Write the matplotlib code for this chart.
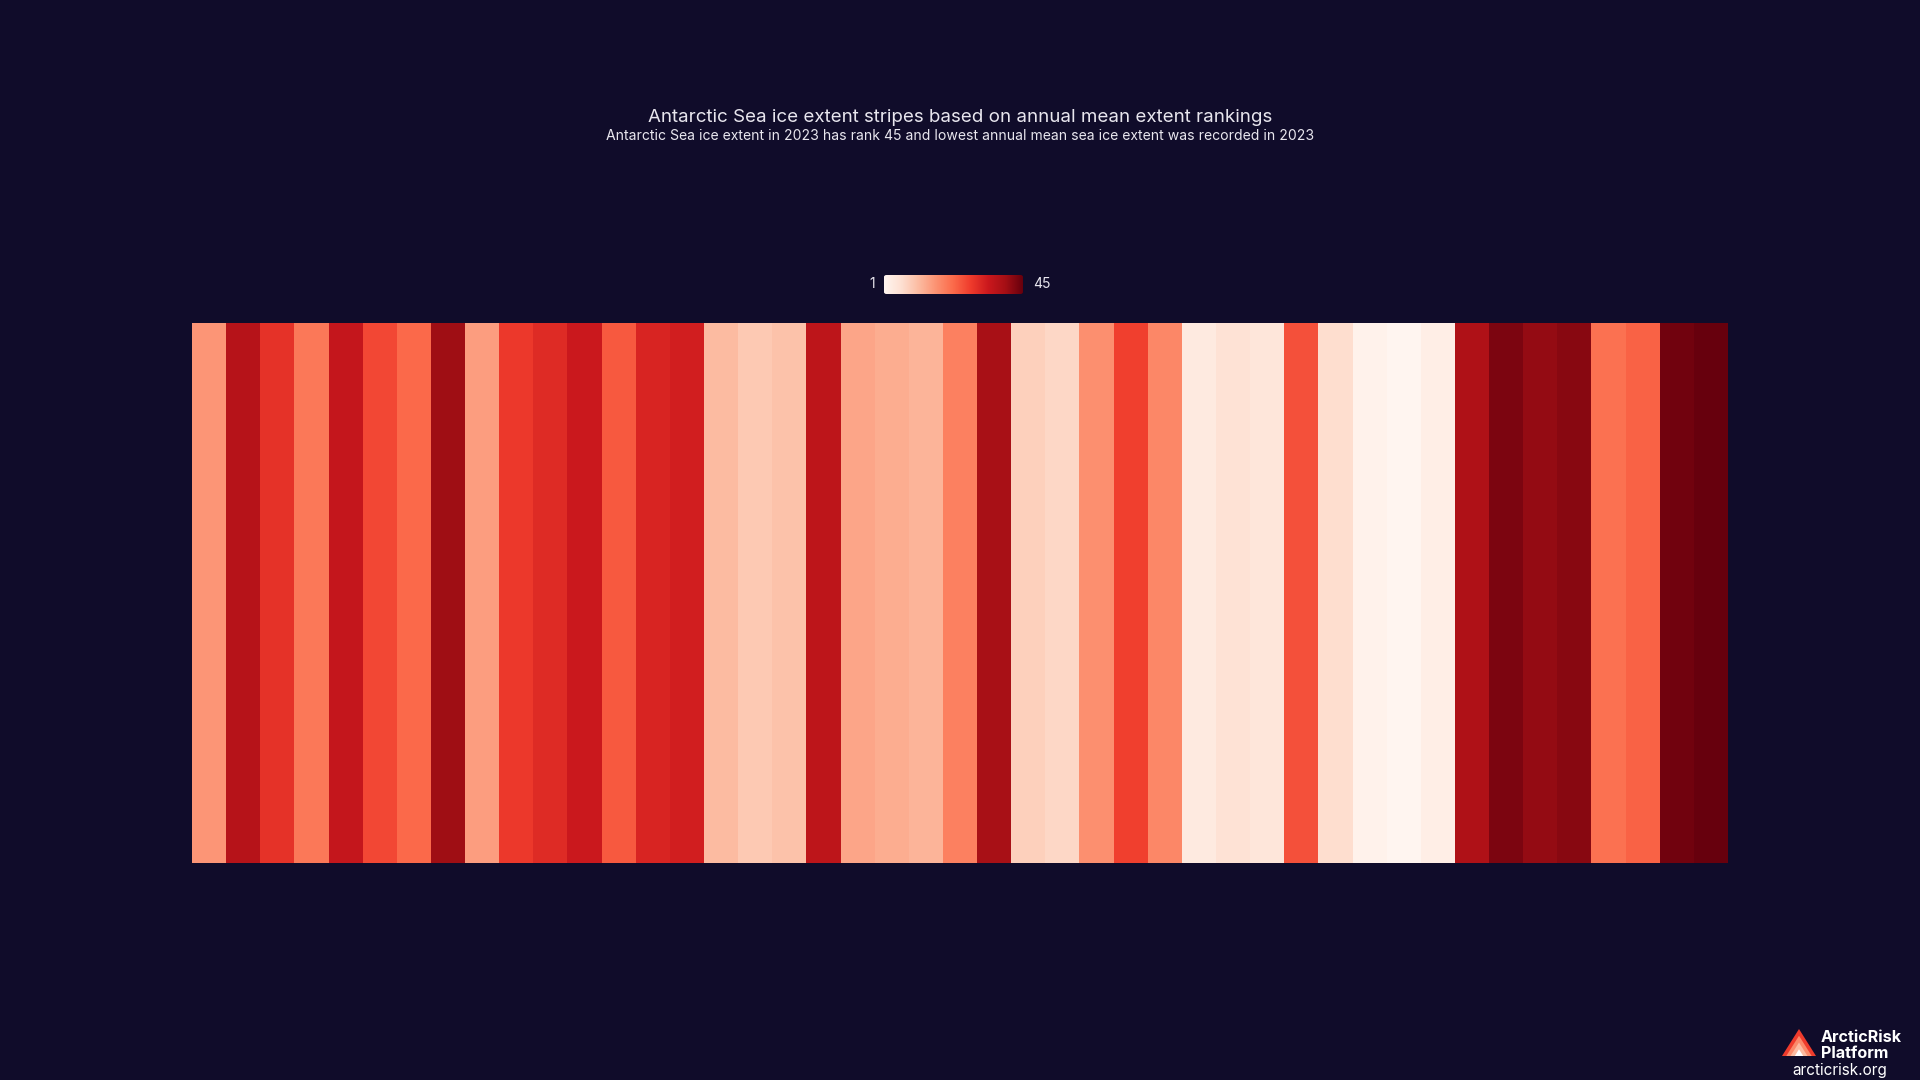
import numpy as np
import matplotlib
matplotlib.use("Agg")
import matplotlib.pyplot as plt
from matplotlib.patches import FancyBboxPatch, Polygon
from matplotlib.colors import Normalize

# ---- data ----
years = list(range(1979, 2024))
ranks = [17, 37, 30, 21, 35, 27, 23, 40, 16, 29,
         31, 34, 25, 32, 33, 12, 10, 11, 36, 15,
         14, 13, 20, 39, 9, 8, 18, 28, 19, 4,
         6, 5, 26, 7, 2, 1, 3, 38, 43, 41,
         42, 22, 24, 44, 45]
rank_min, rank_max = 1, 45
title = "Antarctic Sea ice extent stripes based on annual mean extent rankings"
subtitle = ("Antarctic Sea ice extent in 2023 has rank 45 and lowest annual mean "
            "sea ice extent was recorded in 2023")

BG = "#100c2a"
TXT = "#e8e6ee"
plt.rcParams['font.family'] = ['Inter', 'DejaVu Sans']

fig = plt.figure(figsize=(19.2, 10.8), dpi=100, facecolor=BG)
cmap = plt.get_cmap("Reds")
norm = Normalize(rank_min, rank_max)

ax = fig.add_axes([0.1, 1 - 863 / 1080, 0.8, 540 / 1080])
ax.set_facecolor(BG)
ax.bar(years, [1] * len(years), width=1.0, color=cmap(norm(np.array(ranks))),
       linewidth=0, align="center")
ax.set_xlim(years[0] - 0.5, years[-1] + 0.5)
ax.set_ylim(0, 1)
ax.axis("off")

fig.text(0.5, 1 - 118 / 1080, title, ha="center", va="center", fontsize=13.5, color=TXT)
fig.text(0.5, 1 - 136 / 1080, subtitle, ha="center", va="center", fontsize=10.1, color=TXT)

# colorbar legend
cax = fig.add_axes([884 / 1920, 1 - 294 / 1080, 139 / 1920, 19 / 1080])
cax.set_facecolor(BG)
grad = np.linspace(rank_min, rank_max, 256).reshape(1, -1)
im = cax.imshow(grad, aspect="auto", cmap=cmap, norm=norm,
                extent=[rank_min, rank_max, 0, 1])
cax.set_xlim(rank_min, rank_max)
cax.set_ylim(0, 1)
clip = FancyBboxPatch((rank_min, 0), rank_max - rank_min, 1,
                      boxstyle="round,pad=0,rounding_size=0.8",
                      mutation_aspect=1 / 8, transform=cax.transData,
                      facecolor="none", edgecolor="none")
cax.add_patch(clip)
im.set_clip_path(clip)
cax.axis("off")
fig.text(872 / 1920, 1 - 284 / 1080, str(rank_min), ha="center", va="center",
         fontsize=10, color=TXT)
fig.text(1042 / 1920, 1 - 284 / 1080, str(rank_max), ha="center", va="center",
         fontsize=10, color=TXT)

# logo
def fx(x):
    return x / 1920

def fy(y):
    return 1 - y / 1080

tri_cols = ["#ef3b2c", "#fb8a6a", "#fcbba1", "#ffffff"]
bx0, bx1, by, ty = 1782, 1816, 1056, 1029
for i, c in enumerate(tri_cols):
    s = 1 - i * 0.25
    cx = (bx0 + bx1) / 2
    hw = (bx1 - bx0) / 2 * s
    top = by - (by - ty) * s
    fig.patches.append(Polygon([(fx(cx - hw), fy(by)), (fx(cx + hw), fy(by)),
                                (fx(cx), fy(top))], closed=True,
                               transform=fig.transFigure, facecolor=c,
                               edgecolor="none"))
fig.text(fx(1821), fy(1038), "ArcticRisk", ha="left", va="center", fontsize=11.6,
         fontweight="bold", color="white")
fig.text(fx(1821), fy(1054), "Platform", ha="left", va="center", fontsize=11.6,
         fontweight="bold", color="white")
fig.text(fx(1840), fy(1071), "arcticrisk.org", ha="center", va="center",
         fontsize=11, color="white")

fig.savefig("out.png", dpi=100, facecolor=BG)
